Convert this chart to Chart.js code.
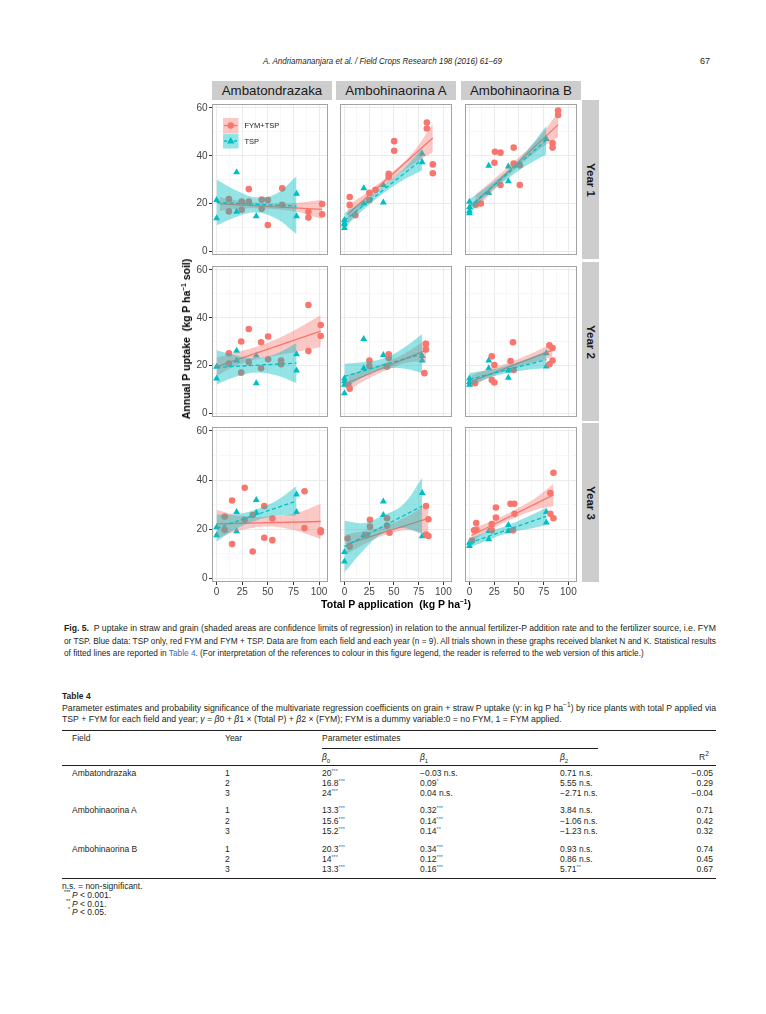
<!DOCTYPE html>
<html>
<head>
<meta charset="utf-8">
<script src="https://cdn.jsdelivr.net/npm/chart.js@4.4.1/dist/chart.umd.min.js"></script>
<style>
body{margin:0;background:#fff;width:766px;height:1014px;position:relative;overflow:hidden;
  font-family:"Liberation Sans",Arial,sans-serif;color:#231f20}
.t{position:absolute;white-space:nowrap;font-size:8.5px;line-height:10px;height:10px}
.fit{transform-origin:0 50%}
.panel{position:absolute}
.strip{position:absolute;background:#cdcdcd;display:flex;align-items:center;justify-content:center;color:#1a1a1a}
.strip.top{font-size:13.3px}
.strip.side span{display:block;transform:rotate(90deg);font-weight:bold;font-size:11.5px;white-space:nowrap}
.ttl{position:absolute;white-space:nowrap;font-weight:bold;font-size:10.5px;color:#000;transform:translate(-50%,-50%)}
sup.m{font-size:6.5px;vertical-align:4px;line-height:0}
sup.s{font-size:5.5px;vertical-align:3px;line-height:0;color:#3b6fb6}
.star{position:absolute;white-space:nowrap;font-size:5.5px;line-height:5px;height:5px}
.link{color:#2f6db5}
.rule{position:absolute;background:#231f20}
</style>
</head>
<body>

<!-- running head -->
<div class="t fit" data-w="239" style="left:263px;top:56px;font-style:italic;font-size:9px">A. Andriamananjara et al. / Field Crops Research 198 (2016) 61–69</div>
<div class="t" style="left:700px;top:56px;font-size:9px">67</div>

<!-- figure -->
<div id="fig"></div>
<div class="ttl" style="left:186px;top:339px;transform:translate(-50%,-50%) rotate(-90deg)">Annual P uptake&nbsp; (kg P ha<sup class="m">−1</sup> soil)</div>
<div class="ttl" style="left:396px;top:604px">Total P application&nbsp; (kg P ha<sup class="m">−1</sup>)</div>

<!-- figure caption -->
<div class="t fit" data-w="652" style="left:64px;top:623px"><b>Fig. 5.</b>&nbsp;&nbsp;P uptake in straw and grain (shaded areas are confidence limits of regression) in relation to the annual fertilizer-P addition rate and to the fertilizer source, i.e. FYM</div>
<div class="t fit" data-w="652" style="left:64px;top:635.5px">or TSP. Blue data: TSP only, red FYM and FYM + TSP. Data are from each field and each year (n = 9). All trials shown in these graphs received blanket N and K. Statistical results</div>
<div class="t fit" style="left:64px;top:648px">of fitted lines are reported in <span class="link">Table 4</span>. (For interpretation of the references to colour in this figure legend, the reader is referred to the web version of this article.)</div>

<!-- table -->
<div class="t" style="left:62px;top:691px;font-weight:bold">Table 4</div>
<div class="t fit" data-w="654" style="left:62px;top:703px">Parameter estimates and probability significance of the multivariate regression coefficients on grain + straw P uptake (γ: in kg P ha<sup class="m">−1</sup>) by rice plants with total P applied via</div>
<div class="t fit" style="left:62px;top:714px">TSP + FYM for each field and year; <i>γ</i> = <i>β</i>0 + <i>β</i>1 × (Total P) + <i>β</i>2 × (FYM); FYM is a dummy variable:0 = no FYM, 1 = FYM applied.</div>
<div class="rule" style="left:62px;top:729.5px;width:654px;height:1.2px"></div>
<div class="t" style="left:72px;top:733px">Field</div>
<div class="t" style="left:225px;top:733px">Year</div>
<div class="t" style="left:322px;top:733px">Parameter estimates</div>
<div class="rule" style="left:322px;top:747.5px;width:276px;height:0.8px"></div>
<div class="t" style="left:322px;top:752px"><i>β</i><sub style="font-size:6px">0</sub></div>
<div class="t" style="left:420px;top:752px"><i>β</i><sub style="font-size:6px">1</sub></div>
<div class="t" style="left:560px;top:752px"><i>β</i><sub style="font-size:6px">2</sub></div>
<div class="t" style="left:699px;top:752px">R<sup class="m">2</sup></div>
<div class="rule" style="left:62px;top:764.5px;width:654px;height:0.8px"></div>
<div id="tbody"></div>
<div class="rule" style="left:62px;top:877.5px;width:654px;height:1.2px"></div>
<div class="t" style="left:62px;top:881px">n.s. = non-significant.</div>
<div class="star" style="left:64px;top:890px">***</div>
<div class="t" style="left:72px;top:890px"><i>P</i> &lt; 0.001.</div>
<div class="star" style="left:66px;top:898.5px">**</div>
<div class="t" style="left:72px;top:898.5px"><i>P</i> &lt; 0.01.</div>
<div class="star" style="left:68px;top:907px">*</div>
<div class="t" style="left:72px;top:907px"><i>P</i> &lt; 0.05.</div>

<script>
// ---- facets ----
const fields = ["Ambatondrazaka", "Ambohinaorina A", "Ambohinaorina B"];
const years = ["Year 1", "Year 2", "Year 3"];
const seriesNames = ["FYM+TSP", "TSP"];
const xTicks = [0, 25, 50, 75, 100];
const xMinor = [12.5, 37.5, 62.5, 87.5];
const yTicks = [0, 20, 40, 60];
const yMinor = [10, 30, 50];

// panels in reading order: Year 1 (3 fields), Year 2, Year 3
// FYM+TSP (red circles)
const fymX = [
  [12, 12, 24.5, 24.5, 31.4, 31.4, 44, 44, 50, 50, 64, 64, 89.6, 89.6, 103, 103],
  [5.3, 5.3, 11, 25.2, 25.2, 31.4, 44.7, 44.7, 50.3, 50.3, 83.3, 83.3, 89.3, 89.3],
  [6.3, 11.6, 25.2, 25.8, 31.4, 31.4, 44.7, 44.7, 50.9, 50.9, 84, 84, 89.6, 89.6],
  [12, 12, 24, 24, 31.4, 31.4, 43.4, 43.4, 50.3, 50.3, 62.9, 62.9, 89.6, 89.6, 101.6, 101.6],
  [5.3, 4, 25.2, 25.2, 44.7, 44.7, 43, 82.4, 82.4, 80.8],
  [5.7, 22.6, 25.2, 22.6, 25.2, 44, 41.5, 44.7, 80.8, 84, 84, 80.8],
  [7.9, 7.9, 15.1, 15.1, 27.4, 27.4, 35.2, 35.2, 46.5, 46.5, 54.4, 54.4, 85.8, 85.8, 101.6, 101.6],
  [3.1, 5.3, 25.8, 25.8, 22.6, 43, 43, 45.6, 82.4, 82.4, 84.9, 84.9],
  [2.5, 4.7, 6.9, 6.9, 22.6, 22.6, 26.7, 26.7, 41.5, 45.3, 44, 45.6, 81.8, 81.8, 84.9, 84.9]
];
const fymY = [
  [21.9, 16.8, 20.9, 17.5, 20.9, 26.1, 21.7, 17.9, 21.5, 11.1, 26.4, 19.5, 16.6, 14.2, 19.9, 15.6],
  [22.8, 19.5, 15.2, 24.5, 21.5, 25.8, 32.5, 31.1, 46.1, 42.1, 53.9, 51.4, 36.4, 32.7],
  [19.6, 20.1, 37.1, 41.7, 41.3, 27.8, 43.4, 36.8, 36.0, 27.8, 45.3, 43.4, 58.9, 57.0],
  [25.2, 20.9, 30.1, 17.1, 35.3, 21.5, 29.8, 18.9, 32.2, 22.7, 22.2, 20.6, 45.3, 26.1, 37.0, 32.4],
  [10.4, 12.0, 22.2, 19.9, 24.8, 23.2, 19.6, 29.1, 26.8, 16.9],
  [12.7, 23.9, 20.3, 14.0, 13.0, 29.8, 21.9, 18.2, 28.5, 27.4, 22.2, 20.6],
  [25.2, 19.8, 31.7, 14.0, 36.9, 23.9, 25.8, 11.0, 29.5, 16.6, 24.4, 15.6, 35.5, 20.5, 19.6, 18.8],
  [16.3, 13.0, 23.9, 21.1, 17.6, 24.5, 21.5, 18.6, 29.5, 17.9, 24.1, 17.3],
  [15.4, 19.6, 22.6, 19.9, 22.2, 19.6, 28.9, 24.8, 30.4, 30.4, 19.6, 26.3, 34.8, 26.3, 43.0, 24.5]
];
// TSP (teal triangles)
const tspX = [
  [0, 0, 19.5, 19.5, 38.7, 78, 78],
  [0, 0, 0, 0, 19.5, 19.5, 39.3, 39.3, 78.6, 78.6],
  [0, 0, 0, 0, 19.5, 19.5, 39.3, 39.3, 77.7],
  [0, 0, 19.5, 19.5, 38.7, 38.7, 78, 78],
  [0, 0, 0, 0, 19.5, 19.5, 39.3, 78.6, 78.6],
  [0, 0, 0, 19.5, 19.5, 39.3, 39.3, 77.7, 77.7],
  [0, 0, 19.5, 19.5, 38.7, 38.7, 78, 78],
  [0, 0, 19.5, 39.3, 39.3, 78.6, 78.6],
  [0, 0, 19.5, 19.5, 39.3, 39.3, 77.7, 77.7]
];
const tspY = [
  [21.5, 13.9, 33.1, 16.6, 14.8, 24.2, 14.8],
  [13.2, 12.0, 11.3, 9.9, 26.5, 20.1, 20.5, 27.8, 40.8, 37.3],
  [20.8, 18.5, 17.0, 16.0, 35.8, 24.5, 29.4, 35.5, 47.0],
  [19.6, 14.7, 26.2, 22.2, 24.3, 12.7, 24.8, 18.0],
  [14.7, 13.5, 12.1, 8.5, 31.1, 18.9, 24.5, 24.1, 22.2],
  [14.7, 13.2, 12.1, 22.2, 18.9, 18.0, 15.0, 25.2, 19.7],
  [20.9, 17.6, 27.1, 19.2, 31.9, 26.7, 34.2, 27.1],
  [10.8, 6.9, 17.6, 31.3, 25.8, 34.8, 17.2],
  [14.6, 13.2, 19.3, 16.0, 21.8, 19.2, 27.1, 22.8]
];
// fitted lines (end points)
const fymFitX = [[3, 103], [3, 89.3], [6, 89.6], [0, 101.6], [4, 82.4], [2, 84], [0, 101.6], [2, 84.9], [2, 85]];
const fymFitY = [[19.9, 17.6], [15.5, 47.4], [20.5, 53.0], [19.6, 34.4], [13.0, 26.5], [13.5, 26.5], [22.2, 23.2], [14.0, 24.5], [17.5, 34.0]];
const tspFitX = [[0, 78], [0, 78.6], [0, 77.7], [0, 78], [0, 78.6], [0, 77.7], [0, 78], [0, 78.6], [0, 77.7]];
const tspFitY = [[20.5, 19.0], [13.0, 38.5], [18.8, 46.5], [19.3, 21.1], [15.5, 25.0], [14.3, 22.5], [20.5, 31.5], [13.0, 29.5], [14.5, 25.3]];
// confidence bands
const fymBandX = [
  [3, 25, 50, 78, 103], [3, 25, 46, 68, 89.3], [6, 27, 47, 68, 89.6],
  [0, 25, 50, 76, 101.6], [4, 24, 44, 63, 82.4], [2, 22, 43, 63, 84],
  [0, 25, 50, 76, 101.6], [2, 23, 43, 64, 84.9], [2, 23, 44, 64, 85]
];
const fymBandLo = [
  [17.0, 18.0, 17.9, 16.6, 13.6], [11.8, 21.5, 29.2, 36.2, 41.5], [17.3, 26.6, 34.6, 41.8, 47.8],
  [15.8, 21.0, 23.6, 25.6, 27.8], [9.8, 14.6, 18.4, 21.2, 22.0], [11.0, 15.4, 18.7, 21.2, 23.6],
  [16.4, 19.8, 21.2, 19.6, 16.0], [10.0, 14.6, 18.0, 19.6, 18.2], [15.0, 20.2, 24.4, 27.6, 29.5]
];
const fymBandHi = [
  [22.8, 21.0, 20.2, 20.3, 21.6], [19.2, 25.4, 32.3, 40.8, 53.3], [23.7, 31.0, 38.2, 46.6, 58.2],
  [23.4, 26.2, 29.6, 34.8, 41.0], [16.2, 18.8, 21.8, 25.6, 31.0], [16.0, 19.0, 21.8, 25.2, 29.4],
  [28.0, 25.4, 25.2, 26.4, 30.4], [18.0, 19.6, 21.6, 25.4, 30.6], [20.2, 23.5, 27.5, 32.0, 38.5]
];
const tspBandX = [
  [0, 20, 38, 58, 78], [0, 20, 40, 60, 78.6], [0, 20, 39, 58, 77.7],
  [0, 20, 39, 58, 78], [0, 20, 39, 59, 78.6], [0, 20, 39, 58, 77.7],
  [0, 20, 39, 58, 78], [0, 20, 39, 59, 78.6], [0, 20, 39, 58, 77.7]
];
const tspBandLo = [
  [11.0, 14.6, 16.3, 13.8, 7.3], [10.0, 17.8, 24.6, 30.0, 34.0], [15.8, 24.5, 30.5, 36.0, 40.5],
  [12.2, 15.6, 17.2, 16.0, 12.7], [10.5, 15.5, 18.5, 18.8, 17.0], [11.6, 15.0, 17.0, 18.2, 19.0],
  [15.0, 20.4, 23.6, 25.4, 25.5], [2.5, 11.8, 18.5, 20.5, 18.0], [12.6, 15.8, 18.5, 20.0, 21.8]
];
const tspBandHi = [
  [30.0, 25.4, 22.7, 24.2, 31.5], [16.0, 21.4, 27.6, 34.6, 43.0], [21.8, 27.8, 34.0, 42.0, 52.5],
  [26.4, 24.2, 23.2, 25.0, 29.5], [20.8, 21.5, 23.0, 27.2, 33.2], [17.0, 18.2, 20.2, 22.8, 26.0],
  [26.0, 26.2, 28.2, 31.6, 37.5], [23.5, 22.6, 25.7, 30.0, 41.0], [16.4, 19.2, 21.7, 25.0, 28.8]
];

// ---- table 4 ----
const tabField = ["Ambatondrazaka", "", "", "Ambohinaorina A", "", "", "Ambohinaorina B", "", ""];
const tabYear = ["1", "2", "3", "1", "2", "3", "1", "2", "3"];
const tabB0 = ["20", "16.8", "24", "13.3", "15.6", "15.2", "20.3", "14", "13.3"];
const tabB0s = ["***", "***", "***", "***", "***", "***", "***", "***", "***"];
const tabB1 = ["−0.03 n.s.", "0.09", "0.04 n.s.", "0.32", "0.14", "0.14", "0.34", "0.12", "0.16"];
const tabB1s = ["", "*", "", "***", "***", "**", "***", "***", "***"];
const tabB2 = ["0.71 n.s.", "5.55 n.s.", "−2.71 n.s.", "3.84 n.s.", "−1.06 n.s.", "−1.23 n.s.", "0.93 n.s.", "0.86 n.s.", "5.71"];
const tabB2s = ["", "", "", "", "", "", "", "", "**"];
const tabR2 = ["−0.05", "0.29", "−0.04", "0.71", "0.42", "0.32", "0.74", "0.45", "0.67"];
const tabRowY = [773, 783, 793, 810, 820.5, 831, 849, 859, 869];

const tb = document.getElementById('tbody');
tabRowY.forEach(function (y, i) {
  const top = (y - 5) + 'px';
  const cell = function (x, html, right) {
    const d = document.createElement('div');
    d.className = 't';
    d.style.top = top;
    if (right) { d.style.right = (766 - x) + 'px'; } else { d.style.left = x + 'px'; }
    d.innerHTML = html;
    tb.appendChild(d);
  };
  const sig = function (s) { return s ? '<sup class="s">' + s + '</sup>' : ''; };
  if (tabField[i]) cell(72, tabField[i]);
  cell(225, tabYear[i]);
  cell(322, tabB0[i] + sig(tabB0s[i]));
  cell(420, tabB1[i] + sig(tabB1s[i]));
  cell(560, tabB2[i] + sig(tabB2s[i]));
  cell(713, tabR2[i], true);
});

// ---- layout of the facet grid ----
const COLW = 120, ROWH = 159, YAXW = 30, XAXH = 18;
const colLeft = [212, 336, 461];
const rowTop = [100, 262, 423];
const XMIN = -4.5, XMAX = 108.7, YMIN = -1.4, YMAX = 61.6;
const RED = '#F8766D', TEAL = '#00BFC4';
const RED_BAND = 'rgba(248,118,109,0.4)', TEAL_BAND = 'rgba(0,191,196,0.42)';

Chart.defaults.font.family = '"Liberation Sans", Arial, sans-serif';

function pts(xs, ys) { return xs.map(function (x, i) { return {x: x, y: ys[i]}; }); }

const panelFrame = {
  id: 'panelFrame',
  afterDraw: function (chart) {
    const a = chart.chartArea, c = chart.ctx;
    c.save();
    c.strokeStyle = '#a3a3a3';
    c.lineWidth = 1;
    c.strokeRect(a.left + 0.5, a.top + 0.5, a.right - a.left - 1, a.bottom - a.top - 1);
    c.restore();
  }
};

const insideLegend = {
  id: 'insideLegend',
  afterDraw: function (chart) {
    const a = chart.chartArea, c = chart.ctx;
    const kx = a.left + 11, kw = 15.5, kh = 15;
    const keys = [
      {name: seriesNames[0], band: RED_BAND, col: RED, dash: [], tri: false, y: a.top + 14},
      {name: seriesNames[1], band: TEAL_BAND, col: TEAL, dash: [3, 2], tri: true, y: a.top + 29.5}
    ];
    c.save();
    keys.forEach(function (k) {
      const cy = k.y + kh / 2, cx = kx + kw / 2;
      c.fillStyle = k.band;
      c.fillRect(kx, k.y, kw, kh);
      c.strokeStyle = k.col;
      c.lineWidth = 1.3;
      c.setLineDash(k.dash);
      c.beginPath(); c.moveTo(kx + 1, cy); c.lineTo(kx + kw - 1, cy); c.stroke();
      c.setLineDash([]);
      c.fillStyle = k.col;
      c.beginPath();
      if (k.tri) { c.moveTo(cx, cy - 4); c.lineTo(cx - 3.8, cy + 2.6); c.lineTo(cx + 3.8, cy + 2.6); c.closePath(); }
      else { c.arc(cx, cy, 3.2, 0, Math.PI * 2); }
      c.fill();
      c.fillStyle = '#1a1a1a';
      c.font = '7.5px "Liberation Sans", Arial, sans-serif';
      c.textBaseline = 'middle';
      c.fillText(k.name, kx + kw + 6, cy + 0.5);
    });
    c.restore();
  }
};

const fig = document.getElementById('fig');

// strips
fields.forEach(function (f, c) {
  const s = document.createElement('div');
  s.className = 'strip top';
  s.style.cssText = 'left:' + colLeft[c] + 'px;top:81px;width:' + COLW + 'px;height:19px';
  s.textContent = f;
  fig.appendChild(s);
});
years.forEach(function (y, r) {
  const s = document.createElement('div');
  s.className = 'strip side';
  s.style.cssText = 'left:582px;top:' + rowTop[r] + 'px;width:17px;height:' + ROWH + 'px';
  s.innerHTML = '<span>' + y + '</span>';
  fig.appendChild(s);
});

for (let i = 0; i < 9; i++) {
  const r = Math.floor(i / 3), c = i % 3;
  const showY = c === 0, showX = r === 2;
  const box = document.createElement('div');
  box.className = 'panel';
  box.style.left = (colLeft[c] - (showY ? YAXW : 0)) + 'px';
  box.style.top = rowTop[r] + 'px';
  box.style.width = (COLW + (showY ? YAXW : 0)) + 'px';
  box.style.height = (ROWH + (showX ? XAXH : 0)) + 'px';
  const cv = document.createElement('canvas');
  box.appendChild(cv);
  fig.appendChild(box);

  const band = {type: 'line', pointRadius: 0, borderWidth: 0, borderColor: 'rgba(0,0,0,0)', tension: 0.4};
  const datasets = [
    {label: seriesNames[0], data: pts(fymX[i], fymY[i]), showLine: false, pointStyle: 'circle',
     pointRadius: 3.3, pointBorderWidth: 0, pointBackgroundColor: RED, order: 5},
    {label: seriesNames[1], data: pts(tspX[i], tspY[i]), showLine: false, pointStyle: 'triangle',
     pointRadius: 4, pointBorderWidth: 0, pointBackgroundColor: TEAL, order: 5},
    Object.assign({}, band, {data: pts(fymBandX[i], fymBandHi[i]), fill: false, order: 4}),
    Object.assign({}, band, {data: pts(fymBandX[i], fymBandLo[i]), fill: '-1', backgroundColor: RED_BAND, order: 4}),
    {data: pts(fymFitX[i], fymFitY[i]), pointRadius: 0, borderColor: RED, borderWidth: 1.3, order: 3},
    Object.assign({}, band, {data: pts(tspBandX[i], tspBandHi[i]), fill: false, order: 2}),
    Object.assign({}, band, {data: pts(tspBandX[i], tspBandLo[i]), fill: '-1', backgroundColor: TEAL_BAND, order: 2}),
    {data: pts(tspFitX[i], tspFitY[i]), pointRadius: 0, borderColor: TEAL, borderWidth: 1.3, borderDash: [4, 2.5], order: 1}
  ];

  new Chart(cv, {
    type: 'line',
    data: {datasets: datasets},
    options: {
      animation: false,
      responsive: true,
      maintainAspectRatio: false,
      layout: {padding: 0},
      events: [],
      plugins: {legend: {display: false}, tooltip: {enabled: false}},
      scales: {
        x: {
          type: 'linear', min: XMIN, max: XMAX,
          afterBuildTicks: function (s) { s.ticks = xTicks.concat(xMinor).map(function (v) { return {value: v}; }); },
          afterFit: function (s) { s.height = showX ? XAXH : 0; s.paddingLeft = 0; s.paddingRight = 0; },
          border: {display: false},
          grid: {
            color: function (ctx) { return ctx.tick && xMinor.includes(ctx.tick.value) ? '#f3f3f3' : '#ebebeb'; },
            lineWidth: function (ctx) { return ctx.tick && xMinor.includes(ctx.tick.value) ? 0.7 : 1; },
            drawTicks: showX, tickLength: 3, tickWidth: 1,
            tickColor: function (ctx) { return ctx.tick && xTicks.includes(ctx.tick.value) ? '#333333' : 'rgba(0,0,0,0)'; }
          },
          ticks: {
            display: showX, padding: 1, autoSkip: false, maxRotation: 0, color: '#444444', font: {size: 10},
            callback: function (v) { return xTicks.includes(v) ? String(v) : ''; }
          }
        },
        y: {
          type: 'linear', min: YMIN, max: YMAX,
          afterBuildTicks: function (s) { s.ticks = yTicks.concat(yMinor).map(function (v) { return {value: v}; }); },
          afterFit: function (s) { s.width = showY ? YAXW : 0; s.paddingTop = 0; s.paddingBottom = 0; },
          border: {display: false},
          grid: {
            color: function (ctx) { return ctx.tick && yMinor.includes(ctx.tick.value) ? '#f3f3f3' : '#ebebeb'; },
            lineWidth: function (ctx) { return ctx.tick && yMinor.includes(ctx.tick.value) ? 0.7 : 1; },
            drawTicks: showY, tickLength: 3, tickWidth: 1,
            tickColor: function (ctx) { return ctx.tick && yTicks.includes(ctx.tick.value) ? '#333333' : 'rgba(0,0,0,0)'; }
          },
          ticks: {
            display: showY, padding: 1.5, autoSkip: false, color: '#444444', font: {size: 10},
            callback: function (v) { return yTicks.includes(v) ? String(v) : ''; }
          }
        }
      }
    },
    plugins: i === 0 ? [panelFrame, insideLegend] : [panelFrame]
  });
}

// squeeze the running text lines to their measured widths
let lastScale = 1;
document.querySelectorAll('.fit').forEach(function (el) {
  const natural = el.getBoundingClientRect().width;
  if (el.dataset.w) lastScale = (+el.dataset.w) / natural;
  el.style.transform = 'scaleX(' + lastScale + ')';
});
</script>
</body>
</html>
